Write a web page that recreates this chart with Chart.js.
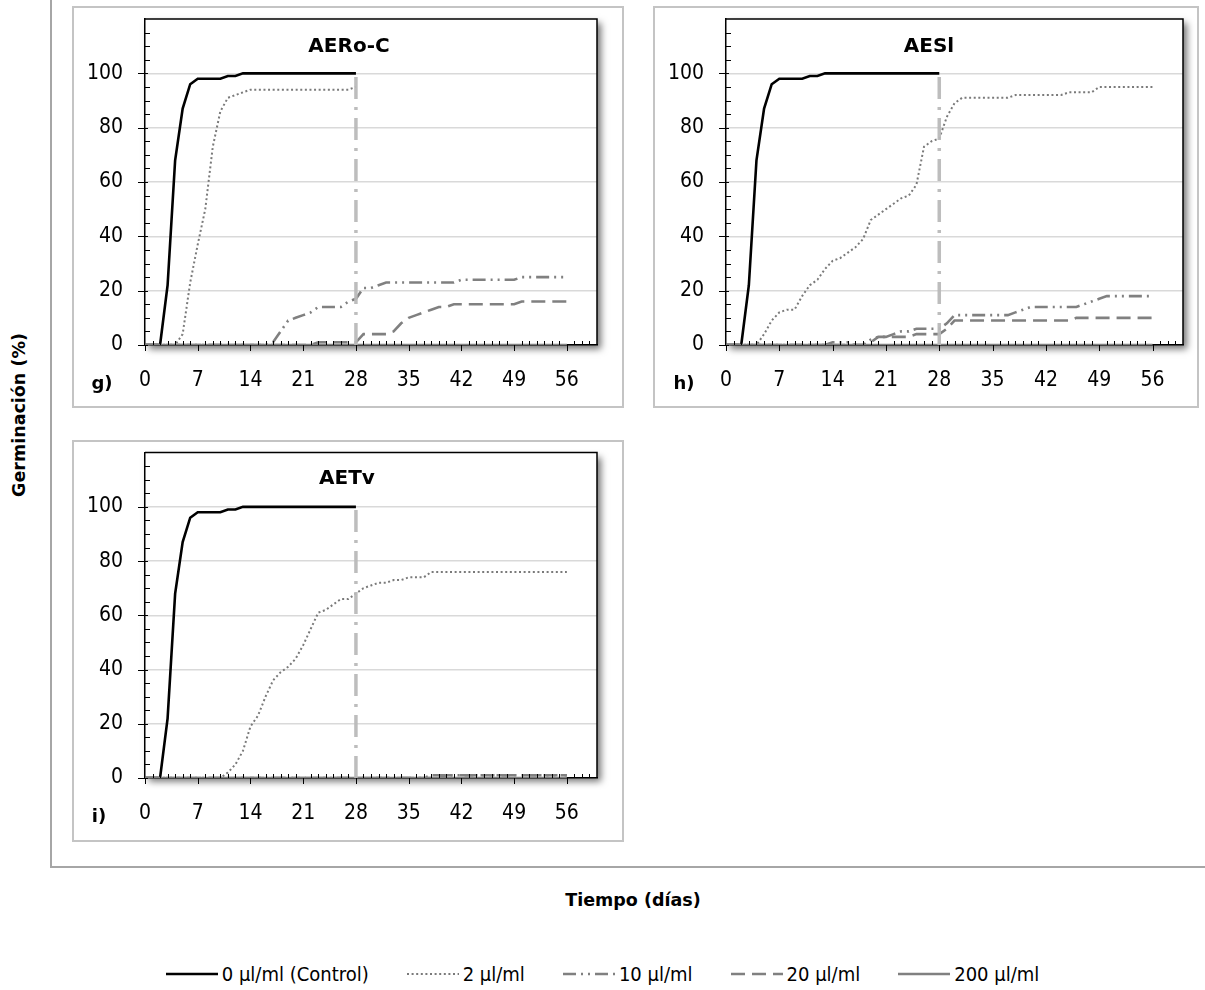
<!DOCTYPE html>
<html>
<head>
<meta charset="utf-8">
<script src="https://cdn.jsdelivr.net/npm/chart.js@4.4.1/dist/chart.umd.min.js"></script>
<style>
  body{margin:0;background:#fff;width:1205px;height:990px;position:relative;overflow:hidden;font-family:'DejaVu Sans',sans-serif;color:#000;}
  .frameV{position:absolute;left:50px;top:0;width:2px;height:868px;background:#a6a6a6;}
  .frameH{position:absolute;left:50px;top:866px;width:1155px;height:2px;background:#a6a6a6;}
  .box{position:absolute;border:2px solid #c4c4c4;box-sizing:border-box;}
  canvas{position:absolute;}
  .ttl{position:absolute;font-weight:bold;font-size:20px;transform:translate(-50%,-50%);white-space:nowrap;}
  .lett{position:absolute;font-weight:bold;font-size:18px;transform:translate(-50%,-50%);white-space:nowrap;}
  .axt{position:absolute;font-weight:bold;font-size:17.5px;white-space:nowrap;transform:translate(-50%,-50%);}
  .legend{position:absolute;left:0;width:1205px;top:962px;display:flex;justify-content:center;align-items:center;gap:38px;
          font-family:'Liberation Sans Narrow','DejaVu Sans Condensed',sans-serif;font-size:20px;padding-left:0;}
  .li{display:flex;align-items:center;gap:4px;}
</style>
</head>
<body>
<div class="frameV"></div>
<div class="frameH"></div>

<div class="box" style="left:72px;top:6px;width:552px;height:402px;"></div>
<div class="box" style="left:653px;top:6px;width:546px;height:402px;"></div>
<div class="box" style="left:72px;top:440px;width:552px;height:402px;"></div>

<canvas id="cg" width="552" height="402" style="left:72px;top:6px;"></canvas>
<canvas id="ch" width="546" height="402" style="left:653px;top:6px;"></canvas>
<canvas id="ci" width="552" height="402" style="left:72px;top:440px;"></canvas>

<div class="ttl" style="left:349px;top:45px;">AERo-C</div>
<div class="ttl" style="left:929px;top:45px;">AESl</div>
<div class="ttl" style="left:347px;top:477px;">AETv</div>

<div class="lett" style="left:102px;top:382px;">g)</div>
<div class="lett" style="left:684px;top:382px;">h)</div>
<div class="lett" style="left:99px;top:815px;">i)</div>

<div class="axt" style="left:19px;top:415px;transform:translate(-50%,-50%) rotate(-90deg);">Germinación (%)</div>
<div class="axt" style="left:633px;top:900px;">Tiempo (días)</div>

<div class="legend" id="legend"></div>

<script>
// ---------- data ----------
const days = [0,1,2,3,4,5,6,7,8,9,10,11,12,13,14,15,16,17,18,19,20,21,22,23,24,25,26,27,28,
              29,30,31,32,33,34,35,36,37,38,39,40,41,42,43,44,45,46,47,48,49,50,51,52,53,54,55,56];
const xTickLabels = [0,7,14,21,28,35,42,49,56];
const yTickLabels = [0,20,40,60,80,100];
const seriesNames = ['0 µl/ml (Control)','2 µl/ml','10 µl/ml','20 µl/ml','200 µl/ml'];
const panelTitles = ['AERo-C','AESl','AETv'];

// control (days 0-28), same in all panels
const control = [0,0,0,22,68,87,96,98,98,98,98,99,99,100,100,100,100,100,100,100,100,100,100,100,100,100,100,100,100];

// panel g) AERo-C
const g2   = [0,0,0,0,0,4,23,37,50,73,86,91,92,93,94,94,94,94,94,94,94,94,94,94,94,94,94,94,95];
const g10  = [0,0,0,0,0,0,0,0,0,0,0,0,0,0,0,0,0,1,5,9,10,11,12,14,14,14,14,16,17,
              21,21,22,23,23,23,23,23,23,23,23,23,23,24,24,24,24,24,24,24,24,25,25,25,25,25,25,25];
const g20  = [0,0,0,0,0,0,0,0,0,0,0,0,0,0,0,0,0,0,0,0,0,0,0,1,1,1,1,1,1,
              4,4,4,4,5,8,10,11,12,13,14,14,15,15,15,15,15,15,15,15,15,16,16,16,16,16,16,16];

// panel h) AESl
const h2   = [0,0,0,0,0,4,9,12,13,13,18,22,24,28,31,32,34,36,39,46,48,50,52,54,55,59,73,75,76,
              84,89,91,91,91,91,91,91,91,92,92,92,92,92,92,92,93,93,93,93,95,95,95,95,95,95,95,95];
const h10  = [0,0,0,0,0,0,0,0,0,0,0,0,0,0,1,1,1,0,0,2,3,3,4,5,5,6,6,6,6,
              8,11,11,11,11,11,11,11,11,12,13,14,14,14,14,14,14,14,15,16,17,18,18,18,18,18,18,18];
const h20  = [0,0,0,0,0,0,0,0,0,0,0,0,0,0,0,0,0,0,0,1,3,3,3,3,3,4,4,4,4,
              6,9,9,9,9,9,9,9,9,9,9,9,9,9,9,9,9,10,10,10,10,10,10,10,10,10,10,10];

// panel i) AETv
const i2   = [0,0,0,0,0,0,0,0,0,0,0,2,5,10,19,23,30,36,39,41,44,49,55,61,62,64,66,66,68,
              70,71,72,72,73,73,74,74,74,76,76,76,76,76,76,76,76,76,76,76,76,76,76,76,76,76,76,76];
const i10  = [0,0,0,0,0,0,0,0,0,0,0,0,0,0,0,0,0,0,0,0,0,0,0,0,0,0,0,0,0,
              0,0,0,0,0,0,0,0,0,1,1,1,1,1,1,1,1,1,1,1,1,1,1,1,1,1,1,1];
const i20  = [0,0,0,0,0,0,0,0,0,0,0,0,0,0,0,0,0,0,0,0,0,0,0,0,0,0,0,0,0,
              0,0,0,0,0,0,0,0,0,0,0,1,1,1,1,1,1,1,1,1,1,1,1,1,1,1,1,1];

// 200 µl/ml: no germination
const s200 = [0,0,0,0,0,0,0,0,0,0,0,0,0,0,0,0,0,0,0,0,0,0,0,0,0,0,0,0,0,
              0,0,0,0,0,0,0,0,0,0,0,0,0,0,0,0,0,0,0,0,0,0,0,0,0,0,0,0];

// day-28 reference line
const markerX = [28,28];
const markerY = [0,100];

// ---------- styles ----------
const NARROW = "'Liberation Sans Narrow','DejaVu Sans Condensed',sans-serif";
const styles = [
  {color:'#000000', width:2.6, dash:[]},
  {color:'#7a7a7a', width:2,   dash:[2,2.6]},
  {color:'#808080', width:2.6, dash:[13,5,2,5,2,5]},
  {color:'#808080', width:2.6, dash:[14,7]},
  {color:'#808080', width:2.6, dash:[]}
];
const drawOrder = [2,3,4,5,1];

function pts(xs, ys){ return ys.map((v,k)=>({x:xs[k], y:v})); }

const framePlugin = {
  id:'frame',
  beforeDraw(chart){
    const {ctx, chartArea:a} = chart;
    ctx.save();
    ctx.shadowColor='rgba(0,0,0,0.55)';
    ctx.shadowBlur=7; ctx.shadowOffsetX=4; ctx.shadowOffsetY=4;
    ctx.fillStyle='#fff';
    ctx.fillRect(a.left,a.top,a.right-a.left,a.bottom-a.top);
    ctx.restore();
  },
  beforeDatasetsDraw(chart){
    const {ctx, chartArea:a} = chart;
    ctx.save();
    ctx.strokeStyle='#000'; ctx.lineWidth=1.5;
    ctx.beginPath();
    ctx.moveTo(a.left,a.top); ctx.lineTo(a.right,a.top); ctx.lineTo(a.right,a.bottom);
    ctx.stroke();
    ctx.restore();
  },
  afterDatasetsDraw(chart){
    const {ctx, chartArea:a, scales:{x,y}} = chart;
    ctx.save();
    ctx.strokeStyle='#000'; ctx.lineWidth=1;
    ctx.beginPath();
    for(let v=0; v<120; v+=5){
      const py = Math.round(y.getPixelForValue(v))+0.5;
      if(v%20===0 && v<=100){ ctx.moveTo(a.left-7,py); ctx.lineTo(a.left+3,py); }
      else { ctx.moveTo(a.left,py); ctx.lineTo(a.left+5,py); }
    }
    for(let d=0; d<60; d++){
      const px = Math.round(x.getPixelForValue(d))+0.5;
      if(d%7===0){ ctx.moveTo(px,a.bottom); ctx.lineTo(px,a.bottom+6); }
      else { ctx.moveTo(px,a.bottom); ctx.lineTo(px,a.bottom-4); }
    }
    ctx.stroke();
    ctx.restore();
  }
};

function makeChart(id, s2, s10, s20, pad){
  const vals = [pts(days,control), pts(days,s2), pts(days,s10), pts(days,s20), pts(days,s200)];
  const datasets = vals.map((d,k)=>({
    label: seriesNames[k], data:d, borderColor:styles[k].color, borderWidth:styles[k].width,
    borderDash:styles[k].dash, pointRadius:0, tension:0, fill:false, order:drawOrder[k]
  }));
  datasets.push({label:'día 28', data:pts(markerX,markerY), borderColor:'rgba(185,185,185,0.95)',
    borderWidth:3.5, borderDash:[22,8,3,8], pointRadius:0, fill:false, order:0});
  new Chart(document.getElementById(id), {
    type:'line',
    data:{datasets},
    options:{
      responsive:false, animation:false, events:[],
      layout:{padding:{left:0, top:pad.top, right:pad.right, bottom:0}},
      plugins:{legend:{display:false}, tooltip:{enabled:false}, title:{display:false}},
      scales:{
        x:{type:'linear', min:0, max:60,
           afterBuildTicks:s=>{ s.ticks = xTickLabels.map(v=>({value:v})); },
           afterFit:s=>{ s.height = pad.bottom; },
           grid:{color:'rgba(0,0,0,0)', drawTicks:true, tickLength:23, tickColor:'rgba(0,0,0,0)'},
           border:{display:true, color:'#000', width:1.5},
           ticks:{padding:0, color:'#000', autoSkip:false, maxRotation:0, font:{family:NARROW, size:21}}},
        y:{type:'linear', min:0, max:120,
           afterBuildTicks:s=>{ s.ticks = yTickLabels.map(v=>({value:v})); },
           afterFit:s=>{ s.width = pad.left; },
           grid:{color:c=> (c.tick && c.tick.value>0) ? '#d9d9d9' : 'rgba(0,0,0,0)', lineWidth:1.5,
                 drawTicks:true, tickLength:22, tickColor:'rgba(0,0,0,0)'},
           border:{display:true, color:'#000', width:1.5},
           ticks:{padding:0, color:'#000', font:{family:NARROW, size:21}}}
      }
    },
    plugins:[framePlugin]
  });
}

makeChart('cg', g2, g10, g20, {left:73, top:13, right:27, bottom:63});
makeChart('ch', h2, h10, h20, {left:73, top:13, right:16, bottom:63});
makeChart('ci', i2, i10, i20, {left:73, top:12, right:27, bottom:64});

// ---------- legend ----------
const leg = document.getElementById('legend');
seriesNames.forEach((name,k)=>{
  const st = styles[k];
  const item = document.createElement('div'); item.className='li';
  const dash = st.dash.length ? st.dash.join(',') : 'none';
  item.innerHTML = `<svg width="52" height="10"><line x1="0" y1="5" x2="52" y2="5" stroke="${st.color}" stroke-width="${st.width}" stroke-dasharray="${dash}"/></svg><span>${name}</span>`;
  leg.appendChild(item);
});
</script>
</body>
</html>
